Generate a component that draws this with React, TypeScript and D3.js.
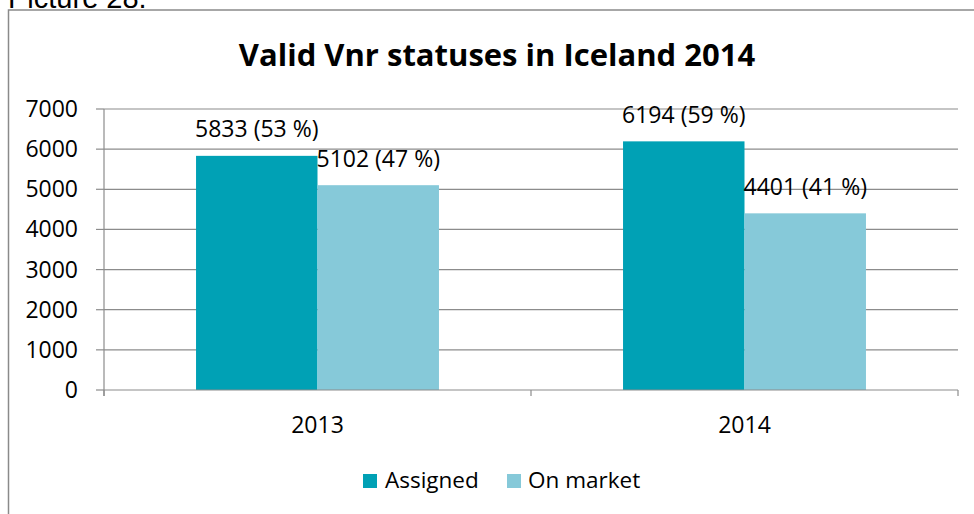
import React from "react";
import * as d3 from "d3";

const categories = ["2013", "2014"];
const seriesNames = ["Assigned", "On market"];
const assigned = [5833, 6194];
const onMarket = [5102, 4401];
const assignedPct = ["53 %", "59 %"];
const onMarketPct = ["47 %", "41 %"];
const yTicks = [0, 1000, 2000, 3000, 4000, 5000, 6000, 7000];
const colors = ["#00a1b5", "#86c9d9"];

const W = 974;
const H = 514;
const left = 104;
const right = 958;
const top = 109;
const bottom = 390;
const font = "'Open Sans', sans-serif";

export default function App() {
  const x = d3.scaleBand<string>().domain(categories).range([left, right]).paddingInner(0).paddingOuter(0);
  const inner = d3.scaleBand<string>().domain(seriesNames).range([0, x.bandwidth()]).paddingOuter(0.7577).paddingInner(0);
  const y = d3.scaleLinear().domain([0, 7000]).range([bottom, top]);
  const series = [assigned, onMarket];
  const pcts = [assignedPct, onMarketPct];

  return (
    <svg width={W} height={H} style={{ position: "absolute", left: 0, top: 0, background: "#fff" }} fontFamily={font}>
      <text x={8} y={8} fontSize={29} fontFamily="'Liberation Sans', Arial, sans-serif" fill="#000">Picture 28.</text>
      <rect x={8.5} y={10} width={W + 10} height={H + 10} fill="#fff" stroke="#8a8a8a" strokeWidth={1.5} />
      <text x={497} y={66} textAnchor="middle" fontSize={31} fontWeight="bold" fill="#000">Valid Vnr statuses in Iceland 2014</text>
      {yTicks.map((t) => (
        <g key={t}>
          {t > 0 && <line x1={left} x2={right} y1={y(t)} y2={y(t)} stroke="#8c8c8c" strokeWidth={1.2} />}
          <line x1={left - 8} x2={left} y1={y(t)} y2={y(t)} stroke="#8c8c8c" strokeWidth={1.2} />
          <text x={78} y={y(t) + 8} textAnchor="end" fontSize={23} fill="#000">{t}</text>
        </g>
      ))}
      {categories.map((c, ci) => (
        <g key={c}>
          {seriesNames.map((s, si) => {
            const bx = (x(c) as number) + (inner(s) as number);
            const v = series[si][ci];
            return (
              <g key={s}>
                <rect x={bx} y={y(v)} width={inner.bandwidth()} height={y(0) - y(v)} fill={colors[si]} />
              </g>
            );
          })}
        </g>
      ))}
      <line x1={left} x2={left} y1={top} y2={bottom + 6} stroke="#8c8c8c" strokeWidth={1.2} />
      <line x1={left} x2={right} y1={bottom} y2={bottom} stroke="#8c8c8c" strokeWidth={1.2} />
      {[left, left + x.bandwidth(), right].map((px, i) => (
        <line key={i} x1={px} x2={px} y1={bottom} y2={bottom + 6} stroke="#8c8c8c" strokeWidth={1.2} />
      ))}
      {categories.map((c, ci) =>
        seriesNames.map((s, si) => {
          const bx = (x(c) as number) + (inner(s) as number) + inner.bandwidth() / 2;
          const v = series[si][ci];
          return (
            <text key={c + s} x={bx} y={y(v) - 18.5} textAnchor="middle" fontSize={23} fill="#000">
              {`${v} (${pcts[si][ci]})`}
            </text>
          );
        })
      )}
      {categories.map((c) => (
        <text key={c} x={(x(c) as number) + x.bandwidth() / 2} y={433} textAnchor="middle" fontSize={23} fill="#000">{c}</text>
      ))}
      <g>
        <rect x={363} y={474} width={14} height={14} fill={colors[0]} />
        <text x={385} y={488} fontSize={22.5} fill="#000">{seriesNames[0]}</text>
        <rect x={507} y={474} width={14} height={14} fill={colors[1]} />
        <text x={528} y={488} fontSize={22.5} fill="#000">{seriesNames[1]}</text>
      </g>
    </svg>
  );
}
